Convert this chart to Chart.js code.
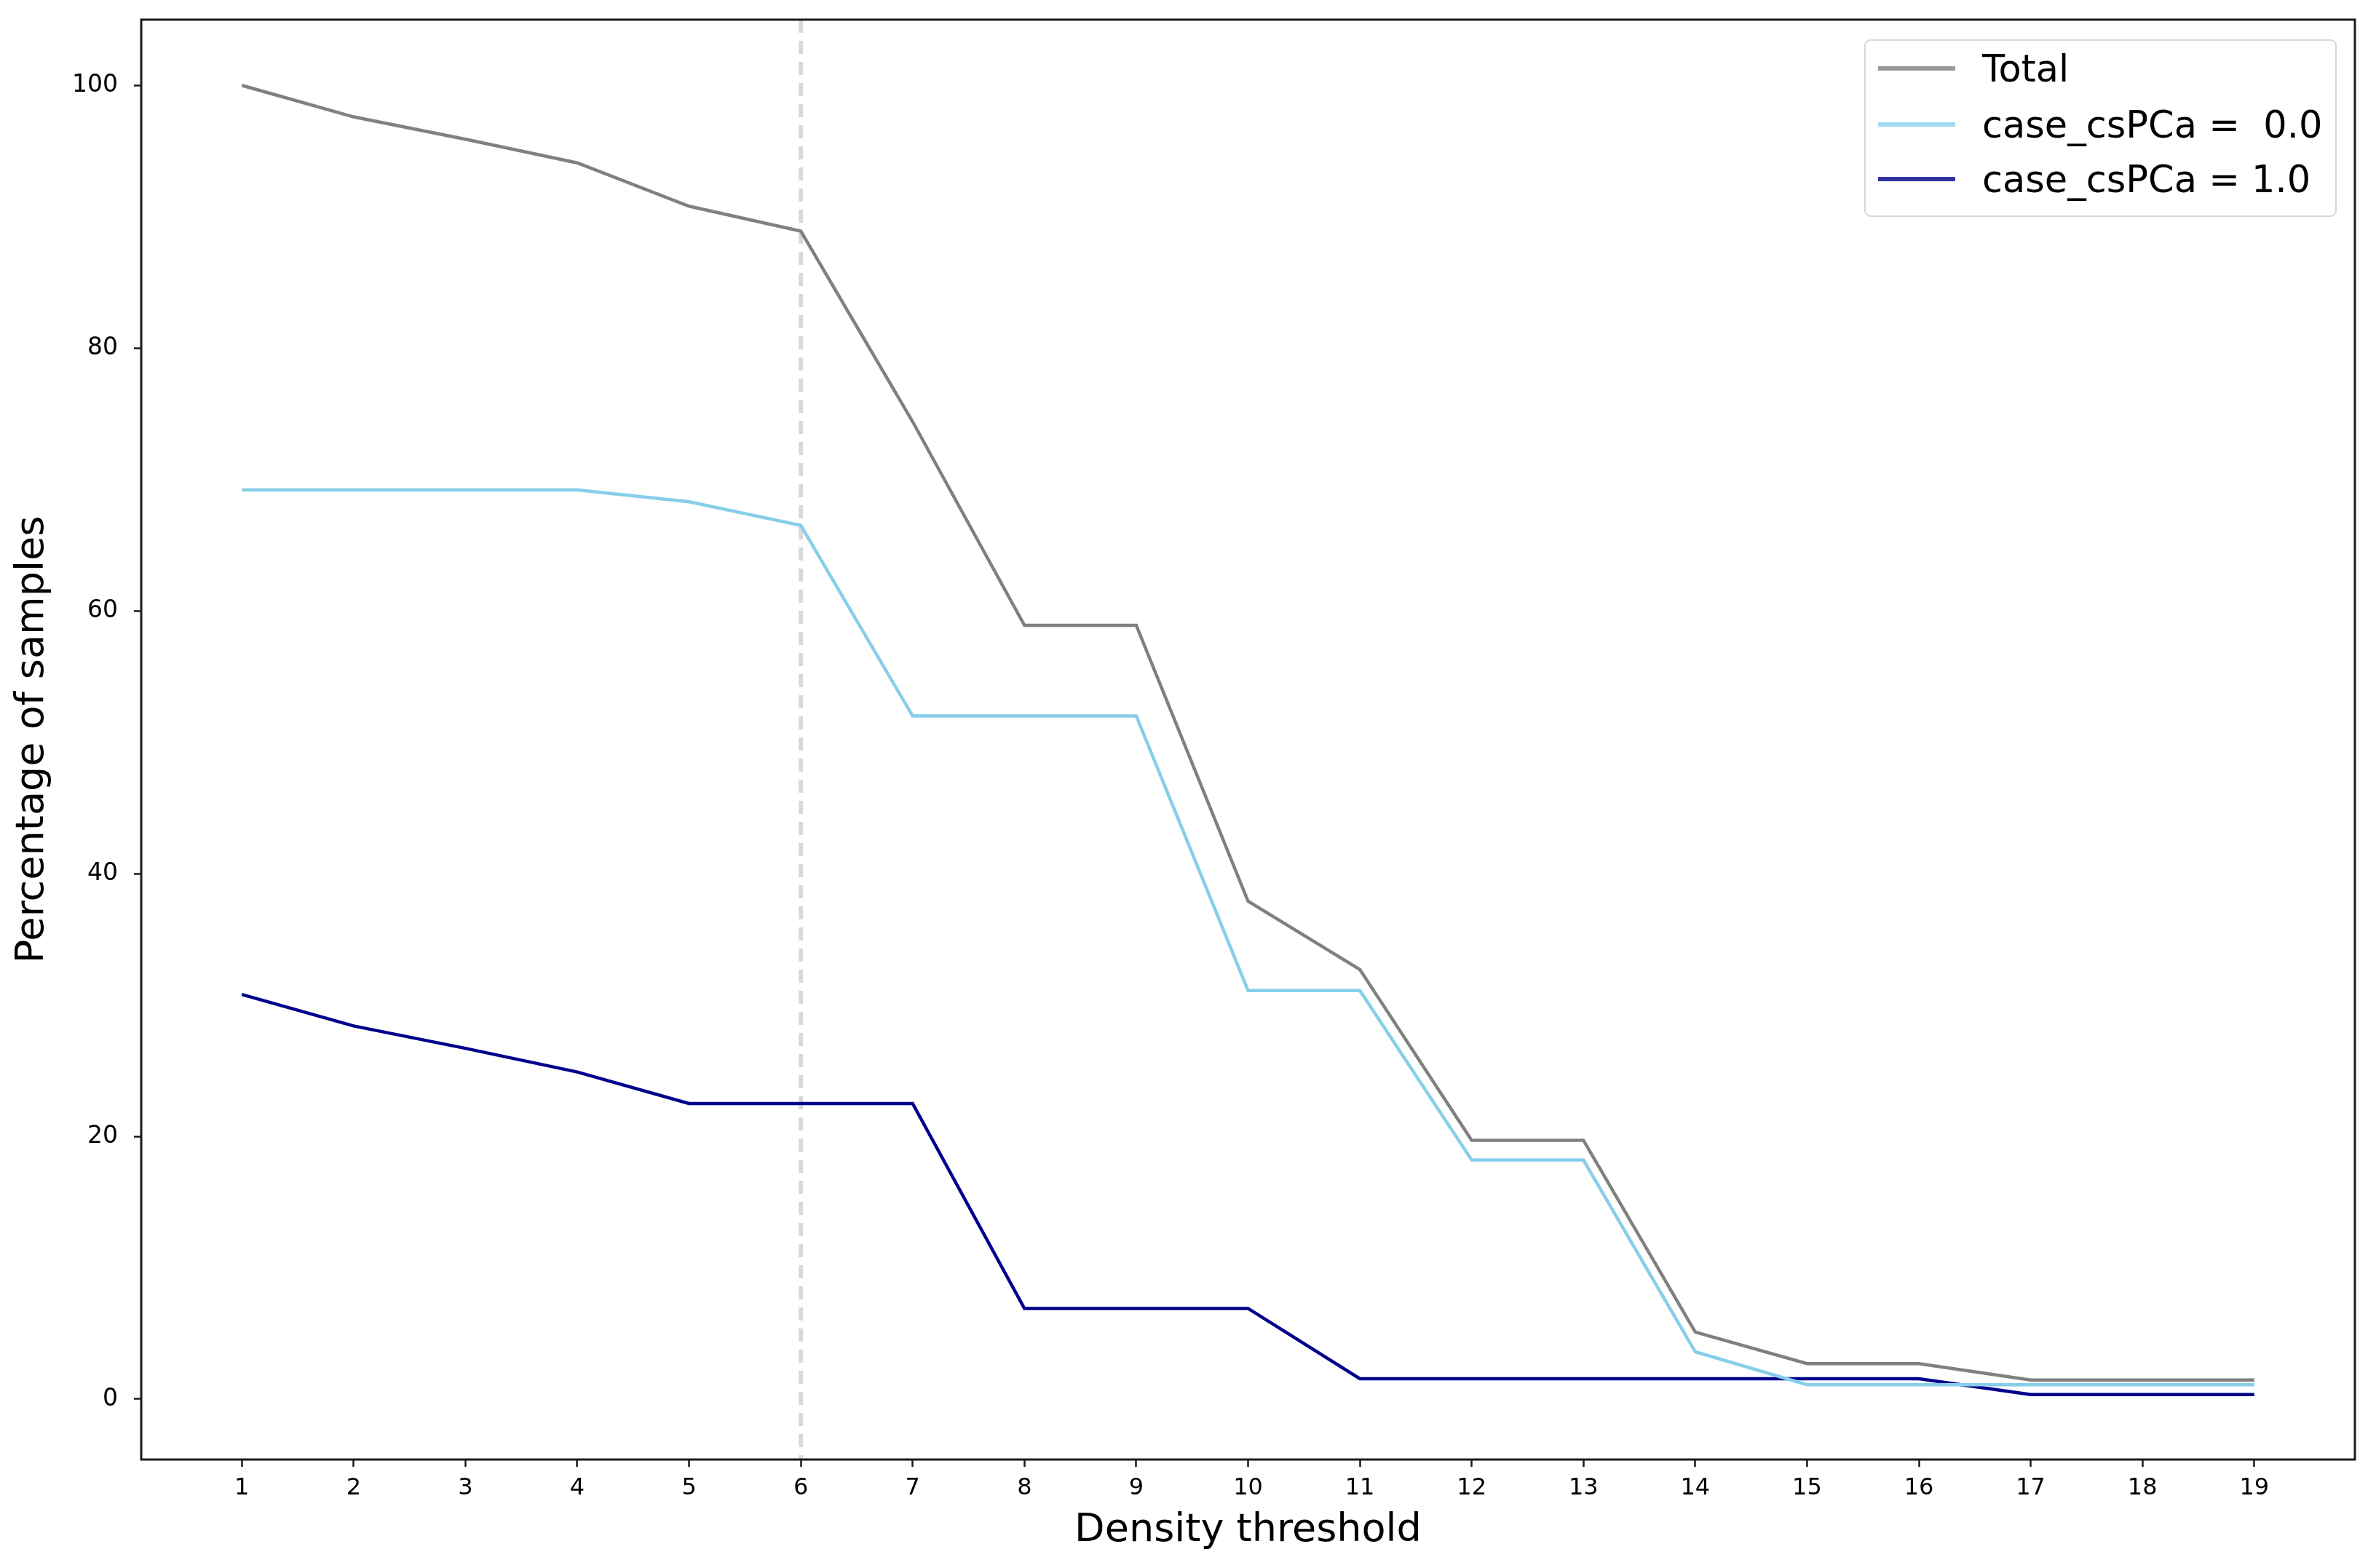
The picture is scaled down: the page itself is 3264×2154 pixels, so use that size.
<!DOCTYPE html>
<html lang="en">
<head>
<meta charset="UTF-8">
<title>Percentage of samples per density threshold</title>
<script src="https://cdn.jsdelivr.net/npm/chart.js"></script>
<style>
  body { margin: 0; background: #fff; }
  .janela { position: relative; width: 3264px; height: 2154px; }
  .legenda {
    position: absolute; left: 2561px; top: 54px; width: 649px; height: 244px;
    box-sizing: border-box; border: 2px solid #d6d6d6; border-radius: 9px; background: #fff;
    font-family: "DejaVu Sans", sans-serif; font-size: 51px; color: #000;
  }
  .item { position: absolute; left: 0; height: 60px; display: flex; align-items: center; }
  .item span.linha { display: inline-block; width: 106px; height: 6px; margin-left: 17px; margin-right: 37px; opacity: 0.8; }
  .item span.txt { white-space: pre; }
</style>
</head>
<body>
<div class="janela">
  <canvas id="myChart"></canvas>
  <div class="legenda" id="legenda"></div>
</div>
<script>
// dados
const thresholds = [1, 2, 3, 4, 5, 6, 7, 8, 9, 10, 11, 12, 13, 14, 15, 16, 17, 18, 19];
const total  = [100, 97.6, 95.9, 94.1, 90.8, 88.9, 74.4, 58.9, 58.9, 37.9, 32.7, 19.7, 19.7, 5.1, 2.7, 2.7, 1.45, 1.45, 1.45];
const csPCa0 = [69.2, 69.2, 69.2, 69.2, 68.3, 66.5, 52.0, 52.0, 52.0, 31.1, 31.1, 18.2, 18.2, 3.6, 1.1, 1.1, 1.1, 1.1, 1.1];
const csPCa1 = [30.8, 28.4, 26.7, 24.9, 22.5, 22.5, 22.5, 6.9, 6.9, 6.9, 1.55, 1.55, 1.55, 1.55, 1.55, 1.55, 0.35, 0.35, 0.35];
const seriesLabels = ['Total', 'case_csPCa =  0.0', 'case_csPCa = 1.0'];
const seriesColors = ['#808080', '#87CEEB', '#00008B'];
const xTicks = thresholds;
const yTicks = [0, 20, 40, 60, 80, 100];
const selectedThreshold = 6;

function pontos(valores) {
  return thresholds.map((t, i) => ({ x: t, y: valores[i] }));
}

const linhaVertical = {
  id: 'linhaVertical',
  beforeDatasetsDraw(chart) {
    const ctx = chart.ctx;
    const area = chart.chartArea;
    const x = chart.scales.x.getPixelForValue(selectedThreshold);
    ctx.save();
    ctx.strokeStyle = '#d9d9d9';
    ctx.lineWidth = 6;
    ctx.setLineDash([18, 11]);
    ctx.beginPath();
    ctx.moveTo(x, area.top);
    ctx.lineTo(x, area.bottom);
    ctx.stroke();
    ctx.restore();
  }
};

const moldura = {
  id: 'moldura',
  afterDraw(chart) {
    const ctx = chart.ctx;
    const a = chart.chartArea;
    ctx.save();
    ctx.strokeStyle = '#1a1a1a';
    ctx.lineWidth = 3;
    ctx.strokeRect(a.left, a.top, a.right - a.left, a.bottom - a.top);
    ctx.restore();
  }
};

const ctx = document.getElementById('myChart').getContext('2d');
const myChart = new Chart(ctx, {
  type: 'line',
  data: {
    datasets: [total, csPCa0, csPCa1].map((valores, i) => ({
      label: seriesLabels[i],
      data: pontos(valores),
      borderColor: seriesColors[i],
      backgroundColor: seriesColors[i],
      borderWidth: 4.5,
      pointRadius: 0,
      tension: 0,
      fill: false
    }))
  },
  options: {
    responsive: true,
    maintainAspectRatio: false,
    animation: false,
    layout: { padding: { top: 27, right: 29, left: 0, bottom: 0 } },
    plugins: {
      legend: { display: false },
      tooltip: { enabled: false }
    },
    scales: {
      x: {
        type: 'linear',
        min: 0.1,
        max: 19.9,
        afterBuildTicks: scale => { scale.ticks = xTicks.map(v => ({ value: v })); },
        afterFit: scale => { scale.height = 149; scale.paddingLeft = 0; scale.paddingRight = 0; },
        grid: { drawOnChartArea: false, drawTicks: true, tickLength: 10, tickWidth: 2.5, tickColor: '#1a1a1a' },
        border: { display: false },
        ticks: { color: '#000', padding: 10, maxRotation: 0, autoSkip: false,
                 font: { family: 'DejaVu Sans', size: 32 } },
        title: { display: true, text: 'Density threshold', color: '#000',
                 font: { family: 'DejaVu Sans', size: 54 }, padding: { top: 0, bottom: 19 } }
      },
      y: {
        min: -4.6,
        max: 105,
        afterBuildTicks: scale => { scale.ticks = yTicks.map(v => ({ value: v })); },
        afterFit: scale => { scale.width = 194; scale.paddingTop = 0; scale.paddingBottom = 0; },
        grid: { drawOnChartArea: false, drawTicks: true, tickLength: 10, tickWidth: 2.5, tickColor: '#1a1a1a' },
        border: { display: false },
        ticks: { color: '#000', padding: 22, font: { family: 'DejaVu Sans', size: 33 } },
        title: { display: true, text: 'Percentage of samples', color: '#000',
                 font: { family: 'DejaVu Sans', size: 54 }, padding: { top: 13, bottom: 0 } }
      }
    }
  },
  plugins: [linhaVertical, moldura]
});

// legenda em html, montada a partir dos datasets
const legenda = document.getElementById('legenda');
const centros = [40, 117, 192];
myChart.data.datasets.forEach((ds, i) => {
  const item = document.createElement('div');
  item.className = 'item';
  item.style.top = (centros[i] - 30 - 2) + 'px';
  item.innerHTML = '<span class="linha" style="background:' + ds.borderColor + '"></span>' +
                   '<span class="txt"></span>';
  item.querySelector('.txt').textContent = ds.label;
  legenda.appendChild(item);
});
</script>
</body>
</html>
